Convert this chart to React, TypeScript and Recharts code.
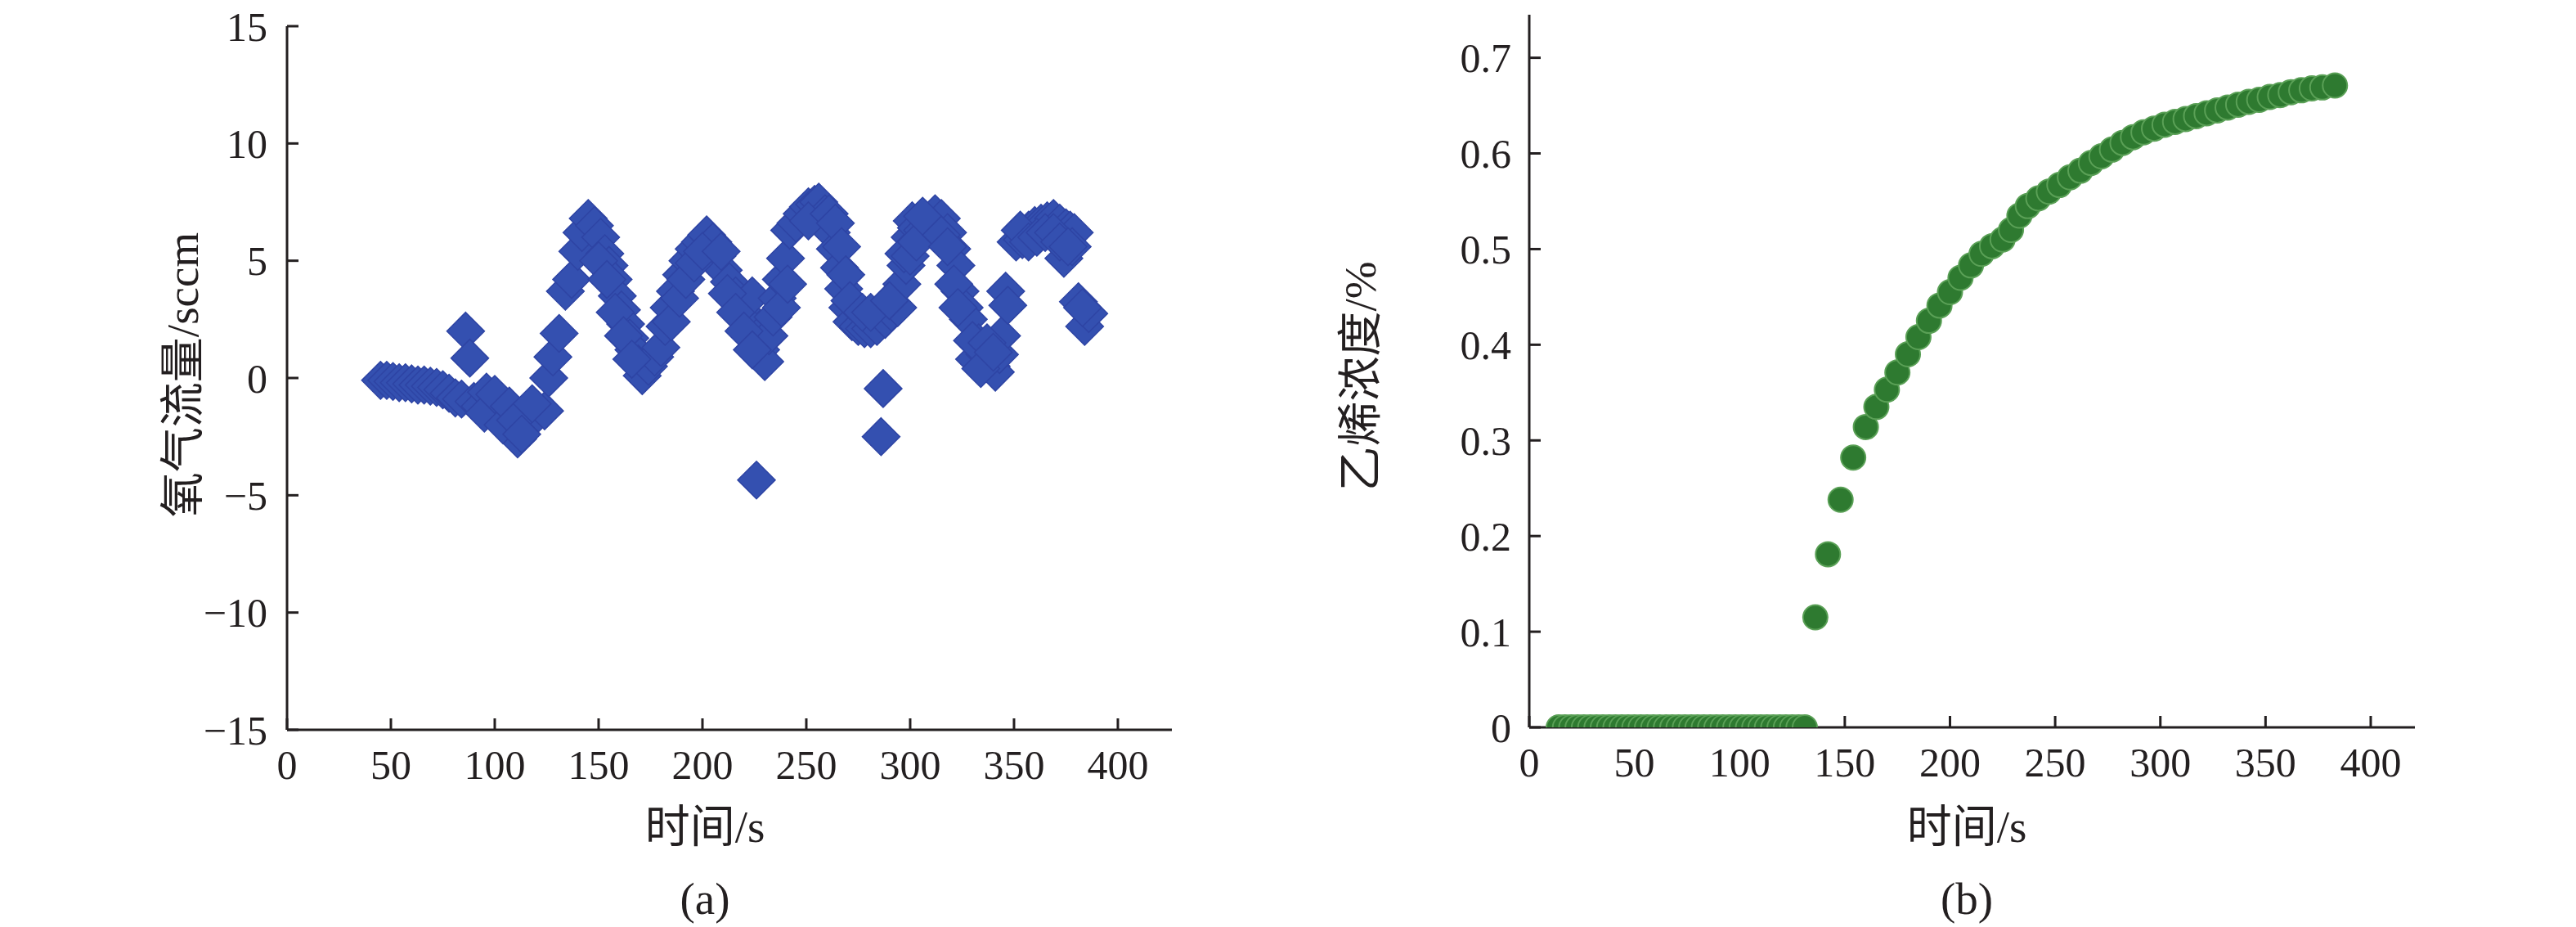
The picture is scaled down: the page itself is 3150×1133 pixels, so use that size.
import { Scatter, ScatterChart, XAxis, YAxis } from "recharts";

// (a) oxygen flow vs time
const oxyTime = [
  45, 48, 51, 54, 57, 60, 63, 66, 69, 72, 75, 78, 81, 84, 86, 88, 90, 93, 96, 99,
  102, 105, 108, 111, 114, 117, 121, 124, 126, 128, 131, 134, 137, 140, 142, 145, 148, 151, 153, 155,
  157, 159, 161, 163, 165, 167, 169, 171, 174, 177, 180, 182, 184, 187, 190, 193, 196, 199, 202, 205,
  207, 210, 213, 216, 219, 222, 224, 226, 226, 228, 230, 232, 234, 236, 238, 240, 242, 245, 248, 251,
  254, 256, 259, 262, 264, 266, 268, 270, 272, 275, 278, 281, 284, 286, 287, 288, 291, 294, 296, 298,
  300, 301, 303, 306, 309, 312, 315, 318, 320, 322, 324, 326, 328, 331, 333, 336, 339, 341, 343, 344,
  346, 347, 351, 354, 357, 360, 363, 366, 369, 372, 375, 377, 379, 374, 378, 381, 384, 386,
  95, 100, 104, 107, 110, 113, 118, 150, 154, 158, 162, 166, 185, 189, 192, 196, 200, 209,
  212, 216, 220, 224, 238, 241, 251, 261, 264, 267, 269, 271, 277, 281, 290, 297, 300, 303,
  306, 315, 318, 321, 323, 330, 334, 337, 340, 353, 357, 361, 365, 369, 372, 376, 383
];
const oxyFlow = [
  -0.1, -0.1, -0.15, -0.2, -0.2, -0.25, -0.3, -0.3, -0.35, -0.4, -0.5, -0.65, -0.85, -0.9, 2.0, 0.85, -1.0, -1.2, -0.6, -1.5,
  -1.0, -1.4, -2.0, -2.6, -2.0, -1.7, -1.5, -1.4, 0.0, 0.9, 1.9, 3.7, 4.2, 5.4, 6.2, 6.8, 6.5, 6.0, 5.3, 4.8,
  4.2, 3.5, 2.9, 2.3, 1.7, 1.2, 0.6, 0.1, 0.5, 0.9, 1.3, 2.2, 3.0, 3.7, 4.4, 5.0, 5.5, 5.8, 6.1, 5.8,
  5.2, 4.6, 4.1, 3.5, 2.9, 2.3, 3.5, 1.7, -4.35, 1.2, 0.7, 1.8, 2.6, 3.4, 4.2, 5.1, 6.3, 6.6, 7.0, 7.3,
  7.4, 7.5, 7.0, 6.2, 5.5, 4.7, 3.8, 3.0, 2.4, 2.2, 2.1, 2.1, 2.2, -2.5, -0.45, 2.5, 2.8, 3.0, 4.0, 4.8,
  6.0, 6.7, 6.4, 6.3, 6.7, 7.0, 6.8, 6.2, 5.5, 4.8, 3.7, 3.0, 2.5, 0.8, 1.5, 1.0, 0.5, 0.25, 1.0, 1.8,
  3.7, 3.1, 5.8, 5.9, 6.3, 6.5, 6.6, 6.7, 6.8, 6.6, 6.4, 6.3, 6.2, 5.1, 5.6, 3.25, 2.2, 2.75,
  -1.5, -0.7, -2.0, -1.2, -1.8, -2.4, -1.1, 5.0, 4.2, 2.8, 1.8, 0.8, 2.4, 3.4, 4.2, 4.9, 5.4, 5.4,
  3.6, 2.8, 2.0, 1.2, 3.0, 4.0, 6.7, 7.0, 6.6, 5.6, 4.4, 3.3, 2.8, 2.8, 3.3, 5.3, 5.2, 5.8,
  6.9, 6.1, 5.6, 4.0, 3.0, 1.6, 0.4, 1.5, 1.1, 6.3, 5.8, 6.0, 6.2, 6.2, 5.8, 5.6, 3.0
];

// (b) ethylene concentration vs time
const ethTime = [
  14, 17, 20, 23, 26, 29, 32, 35, 38, 41, 44, 47, 50, 53, 56, 59, 62, 65, 68, 71,
  74, 77, 80, 83, 86, 89, 92, 95, 98, 101, 104, 107, 110, 113, 116, 119, 122, 125, 128, 131,
  136, 142, 148, 154, 160, 165, 170, 175, 180, 185, 190, 195, 200, 205, 210, 215, 220, 225, 229, 233,
  237, 242, 247, 252, 257, 262, 267, 272, 277, 282, 287, 292, 297, 302, 307, 312, 317, 322, 327, 332,
  337, 342, 347, 352, 357, 362, 367, 372, 377, 383
];
const ethConc = [
  0, 0, 0, 0, 0, 0, 0, 0, 0, 0, 0, 0, 0, 0, 0, 0, 0, 0, 0, 0,
  0, 0, 0, 0, 0, 0, 0, 0, 0, 0, 0, 0, 0, 0, 0, 0, 0, 0, 0, 0,
  0.115, 0.181, 0.238, 0.282, 0.314, 0.335, 0.353, 0.371, 0.39, 0.408, 0.425, 0.441, 0.455, 0.47, 0.483, 0.495, 0.503, 0.51, 0.52, 0.535,
  0.545, 0.553, 0.56, 0.567, 0.575, 0.582, 0.59, 0.597, 0.604, 0.611, 0.617, 0.622, 0.626, 0.63, 0.633, 0.636, 0.639, 0.642, 0.645, 0.648,
  0.651, 0.654, 0.656, 0.659, 0.661, 0.664, 0.666, 0.668, 0.669, 0.671
];

const xTicks = [0, 50, 100, 150, 200, 250, 300, 350, 400];
const oxyTicks = [-15, -10, -5, 0, 5, 10, 15];
const ethTicks = [0, 0.1, 0.2, 0.3, 0.4, 0.5, 0.6, 0.7];

const oxyData = oxyTime.map((t, i) => ({ t, v: oxyFlow[i] }));
const ethData = ethTime.map((t, i) => ({ t, v: ethConc[i] }));

const ink = "#231f20";
const serif = "Liberation Serif, Times New Roman, DejaVu Serif, Noto Sans CJK SC";
const tickStyle = { fontSize: 50, fill: ink, fontFamily: serif };
const axisLine = { stroke: ink, strokeWidth: 3 };

const Diamond = (props: any) => {
  const { cx, cy } = props;
  const r = 23;
  return (
    <path
      d={`M${cx},${cy - r}L${cx + r},${cy}L${cx},${cy + r}L${cx - r},${cy}Z`}
      fill="#3450b0"
      stroke="#2e44a4"
      strokeWidth={1.5}
    />
  );
};

const Dot = (props: any) => {
  const { cx, cy } = props;
  return <circle cx={cx} cy={cy} r={15} fill="#2e7a30" stroke="#5aa056" strokeWidth={2} />;
};

const minus = (v: number) => String(v).replace("-", "\u2212");

function Title({ x, y, text, rotate }: { x: number; y: number; text: string; rotate?: boolean }) {
  return (
    <div
      style={{
        position: "absolute",
        left: x,
        top: y,
        transform: `translate(-50%, -50%)${rotate ? " rotate(-90deg)" : ""}`,
        fontFamily: serif,
        fontSize: 55,
        lineHeight: 1,
        color: ink,
        whiteSpace: "nowrap"
      }}
    >
      {text}
    </div>
  );
}

export default function App() {
  return (
    <div
      style={{
        position: "absolute",
        left: 0,
        top: 0,
        width: 3150,
        height: 1133,
        background: "#fff",
        overflow: "hidden",
        fontFamily: serif
      }}
    >
      <style>{`svg text, svg tspan { font-family: "Liberation Serif", "Times New Roman", "DejaVu Serif" !important; }`}</style>
      <div style={{ position: "absolute", left: 0, top: 0 }}>
        <ScatterChart width={1500} height={1133} margin={{ top: 32, right: 67, bottom: 181, left: 231 }}>
          <XAxis
            type="number"
            dataKey="t"
            domain={[0, 426]}
            ticks={xTicks}
            interval={0}
            height={60}
            tickSize={-14}
            tickMargin={38}
            axisLine={axisLine}
            tickLine={axisLine}
            tick={tickStyle}
          />
          <YAxis
            type="number"
            dataKey="v"
            domain={[-15, 15]}
            ticks={oxyTicks}
            interval={0}
            width={120}
            tickSize={-14}
            tickMargin={38}
            tickFormatter={minus}
            axisLine={axisLine}
            tickLine={axisLine}
            tick={tickStyle}
          />
          <Scatter data={oxyData} shape={Diamond} isAnimationActive={false} />
        </ScatterChart>
      </div>
      <div style={{ position: "absolute", left: 1500, top: 0 }}>
        <ScatterChart width={1650} height={1133} margin={{ top: 18, right: 197, bottom: 184, left: 250 }}>
          <XAxis
            type="number"
            dataKey="t"
            domain={[0, 421]}
            ticks={xTicks}
            interval={0}
            height={60}
            tickSize={-14}
            tickMargin={38}
            axisLine={axisLine}
            tickLine={axisLine}
            tick={tickStyle}
          />
          <YAxis
            type="number"
            dataKey="v"
            domain={[0, 0.745]}
            allowDataOverflow
            ticks={ethTicks}
            interval={0}
            width={120}
            tickSize={-14}
            tickMargin={36}
            tickFormatter={(v: number) => (v === 0 ? "0" : v.toFixed(1))}
            axisLine={axisLine}
            tickLine={axisLine}
            tick={tickStyle}
          />
          <Scatter data={ethData} shape={Dot} isAnimationActive={false} />
        </ScatterChart>
      </div>
      <Title x={223} y={458} text="氧气流量/sccm" rotate />
      <Title x={862} y={1010} text="时间/s" />
      <Title x={862} y={1098} text="(a)" />
      <Title x={1663} y={460} text="乙烯浓度/%" rotate />
      <Title x={2405} y={1010} text="时间/s" />
      <Title x={2405} y={1098} text="(b)" />
    </div>
  );
}
